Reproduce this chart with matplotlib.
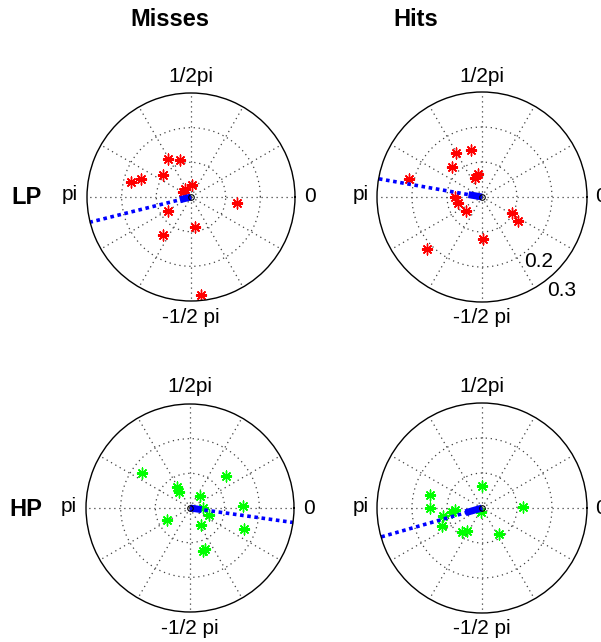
import numpy as np
import matplotlib.pyplot as plt

plt.rcParams['font.family'] = ['Liberation Sans', 'DejaVu Sans']

# phase angles (deg) and vector lengths of single trials
lp_miss_deg = [121, 106, 166, 160, 142, 87, 126, 147, -8, 210, -82, -126, -84]
lp_miss_r = [0.129, 0.112, 0.178, 0.152, 0.102, 0.036, 0.030, 0.026, 0.133, 0.078, 0.087, 0.136, 0.283]

lp_hit_deg = [121, 103, 135, 100, 109, 166, 180, 194, 222, -28, -34, -88, 223]
lp_hit_r = [0.147, 0.138, 0.123, 0.067, 0.058, 0.216, 0.078, 0.070, 0.060, 0.096, 0.125, 0.121, 0.216]

hp_miss_deg = [144, 121, 125, 49, 42, 2, -21, 0, -21, -57, 208, -73, -70]
hp_miss_r = [0.170, 0.071, 0.057, 0.044, 0.138, 0.153, 0.166, 0.037, 0.059, 0.057, 0.076, 0.131, 0.126]

hp_hit_deg = [90, 166, 180, 2, 184, 188, 192, 204, 230, 237, -58, 256]
hp_hit_r = [0.064, 0.154, 0.149, 0.116, 0.076, 0.086, 0.113, 0.125, 0.091, 0.079, 0.089, 0.012]

# mean direction and mean resultant length per panel
mean_deg = [194, 170, -8, 196]
mean_len = [0.033, 0.039, 0.034, 0.049]

W, H = 601, 642
fig = plt.figure(figsize=(W / 100, H / 100), dpi=100)


def ftext(x, y, s, **kw):
    fig.text(x / W, 1 - y / H, s, ha='center', va='center', **kw)


def panel(cx, cy, rad, deg, r, color, mdeg, mlen):
    ax = fig.add_axes([(cx - rad) / W, 1 - (cy + rad) / H, 2 * rad / W, 2 * rad / H],
                      projection='polar')
    th = np.deg2rad(deg)
    ax.plot(th, r, linestyle='none', marker=(8, 2, 0), markersize=8,
            markeredgewidth=1.0, color=color)
    m = np.deg2rad(mdeg)
    ax.plot([m, m], [0, 0.3], color='blue', linestyle=(0, (1, 1)), linewidth=2.6)
    ax.plot([m, m], [0, mlen], color='blue', linewidth=5, solid_capstyle='butt')
    ax.plot([0], [0], marker='o', markersize=4, mfc='none', mec='black', mew=0.8)
    ax.set_ylim(0, 0.3)
    ax.set_yticks([0.1, 0.2])
    ax.set_yticklabels([])
    ax.set_thetagrids(np.arange(0, 360, 30), labels=[])
    ax.grid(True, color='0.25', linestyle=(0, (1, 3)), linewidth=0.9)
    ax.spines['polar'].set_linewidth(1.0)
    ax.tick_params(length=0)
    ftext(cx, cy - 121, '1/2pi', fontsize=15)
    ftext(cx, cy + 121, '-1/2 pi', fontsize=15)
    ftext(cx - 121, cy - 2, 'pi', fontsize=15)
    ftext(cx + 119, cy, '0', fontsize=15)
    return ax


panel(191, 197, 104, lp_miss_deg, lp_miss_r, 'red', mean_deg[0], mean_len[0])
panel(482, 197, 105, lp_hit_deg, lp_hit_r, 'red', mean_deg[1], mean_len[1])
panel(190, 508, 104, hp_miss_deg, hp_miss_r, 'lime', mean_deg[2], mean_len[2])
panel(482, 508, 105, hp_hit_deg, hp_hit_r, 'lime', mean_deg[3], mean_len[3])

ftext(539, 262, '0.2', fontsize=15)
ftext(562, 291, '0.3', fontsize=15)

ftext(170, 19, 'Misses', fontsize=17, fontweight='bold')
ftext(416, 19, 'Hits', fontsize=17, fontweight='bold')
ftext(26, 198, 'LP', fontsize=17, fontweight='bold')
ftext(26, 510, 'HP', fontsize=17, fontweight='bold')

fig.savefig('out.png', dpi=100)
